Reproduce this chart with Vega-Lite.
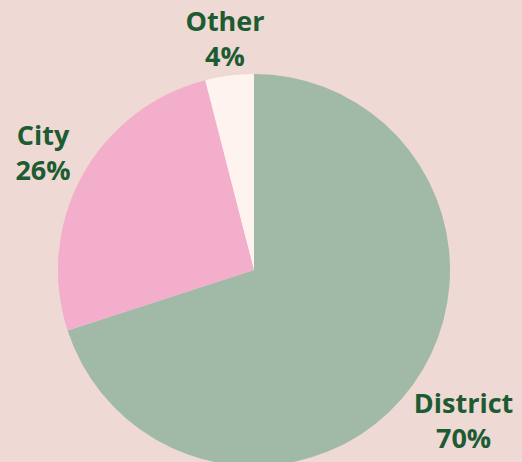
{
  "$schema": "https://vega.github.io/schema/vega-lite/v6.json",
  "width": 508,
  "height": 384,
  "autosize": {"type": "none"},
  "padding": {"left": 0, "right": 14, "top": 78, "bottom": 0},
  "background": "#eed9d4",
  "config": {"view": {"stroke": null}},
  "data": {
    "values": [
      {"category": "District", "value": 70, "rank": 1, "label": "District\n70%"},
      {"category": "City", "value": 26, "rank": 2, "label": "City\n26%"},
      {"category": "Other", "value": 4, "rank": 3, "label": "Other\n4%"}
    ]
  },
  "encoding": {
    "theta": {"field": "value", "type": "quantitative", "stack": true},
    "order": {"field": "rank", "type": "quantitative"}
  },
  "layer": [
    {
      "mark": {"type": "arc", "outerRadius": 196},
      "encoding": {
        "color": {
          "field": "category",
          "type": "nominal",
          "scale": {"domain": ["District", "City", "Other"], "range": ["#a1b9a7", "#f2aecb", "#fff3f0"]},
          "legend": null
        }
      }
    },
    {
      "mark": {"type": "text", "font": "Open Sans", "fontWeight": "bold", "fontSize": 27, "lineBreak": "\n", "lineHeight": 35, "dy": -17, "color": "#1d5b32", "align": "center", "baseline": "middle"},
      "encoding": {
        "text": {"field": "label"},
        "radius": {"field": "value", "type": "quantitative", "scale": {"domain": [0, 70], "range": [230, 259], "zero": false}}
      }
    }
  ]
}
